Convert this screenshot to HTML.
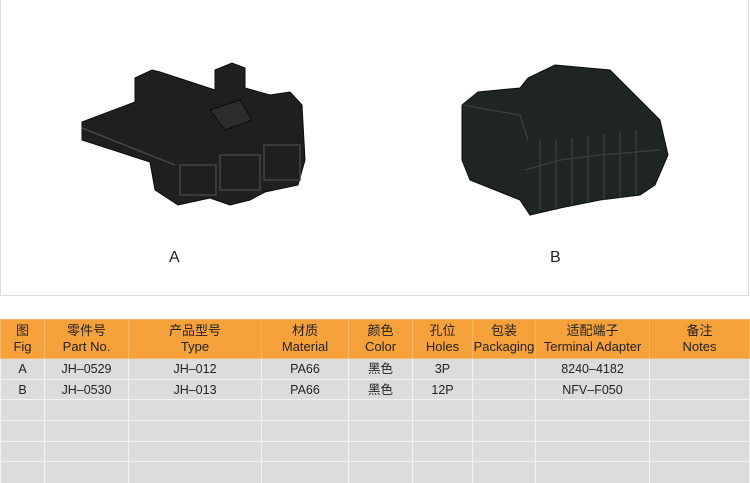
<!DOCTYPE html>
<html><head><meta charset="utf-8"><style>
body{margin:0;width:750px;height:482px;background:#fff;position:relative;overflow:hidden;font-family:"Liberation Sans","Noto Sans CJK SC",sans-serif}
.box{position:absolute;left:0;top:0;width:747px;height:295px;border:1px solid #ddd;border-top:none;box-sizing:content-box}
.lbl{position:absolute;font-size:16px;color:#222}
table{position:absolute;left:0;top:319px;width:749px;border-collapse:collapse;font-size:12.5px;color:#222;table-layout:fixed}
td,th{border:1px solid #f2f2f2;text-align:center;padding:0;overflow:hidden}
th{background:#f5a23b;font-weight:normal;height:38px;line-height:16px;border-color:#f7b766;font-size:13px}
tr.r{height:20.7px}
td{background:#dcdcdc;line-height:14px;white-space:nowrap}
td span{display:inline-block;line-height:14px;vertical-align:middle}
tr.last td{border-bottom:none}
</style></head><body>
<div class="box"></div>
<svg style="position:absolute;left:0;top:0" width="750" height="295">
<g fill="#1d1f21" stroke="#0c0c0c" stroke-width="1">
<polygon points="82,122 135,102 135,78 152,70 160,72 215,90 215,70 232,63 245,68 245,88 270,95 290,92 302,105 305,160 298,185 265,192 250,200 230,205 210,198 178,205 155,190 150,162 82,140"/>
<polygon points="210,110 240,100 252,120 225,130" fill="#2a2c2e"/>
</g>
<g fill="none" stroke="#444" stroke-width="1.5">
<rect x="180" y="165" width="36" height="30"/><rect x="220" y="155" width="40" height="35"/><rect x="264" y="145" width="36" height="35"/>
<line x1="82" y1="128" x2="175" y2="165"/>
</g>
<g fill="#1f2524" stroke="#0c0c0c">
<polygon points="462,105 478,92 520,88 528,78 555,65 610,70 635,95 660,120 668,155 655,185 640,195 600,200 560,208 530,215 520,200 470,180 462,160"/>
</g>
<g fill="none" stroke="#3a4040" stroke-width="1.3">
<polyline points="525,170 560,160 600,155 660,150"/>
<line x1="540" y1="140" x2="540" y2="210"/><line x1="556" y1="140" x2="556" y2="210"/><line x1="572" y1="138" x2="572" y2="205"/>
<line x1="588" y1="136" x2="588" y2="202"/><line x1="604" y1="134" x2="604" y2="200"/><line x1="620" y1="132" x2="620" y2="198"/><line x1="636" y1="130" x2="636" y2="195"/>
<polyline points="462,105 520,115 528,140"/>
</g>
</svg>
<div class="lbl" style="left:169px;top:249px">A</div>
<div class="lbl" style="left:550px;top:249px">B</div>
<table>
<colgroup><col style="width:44px"><col style="width:84px"><col style="width:133px"><col style="width:87px"><col style="width:64px"><col style="width:60px"><col style="width:63px"><col style="width:114px"><col style="width:100px"></colgroup>
<tr><th>图<br>Fig</th><th>零件号<br>Part No.</th><th>产品型号<br>Type</th><th>材质<br>Material</th><th>颜色<br>Color</th><th>孔位<br>Holes</th><th>包装<br>Packaging</th><th>适配端子<br>Terminal Adapter</th><th>备注<br>Notes</th></tr>
<tr class="r"><td>A</td><td>JH–0529</td><td>JH–012</td><td>PA66</td><td><span>黑色</span></td><td>3P</td><td></td><td>8240–4182</td><td></td></tr>
<tr class="r"><td>B</td><td>JH–0530</td><td>JH–013</td><td>PA66</td><td><span>黑色</span></td><td>12P</td><td></td><td>NFV–F050</td><td></td></tr>
<tr class="r"><td></td><td></td><td></td><td></td><td></td><td></td><td></td><td></td><td></td></tr>
<tr class="r"><td></td><td></td><td></td><td></td><td></td><td></td><td></td><td></td><td></td></tr>
<tr class="r"><td></td><td></td><td></td><td></td><td></td><td></td><td></td><td></td><td></td></tr>
<tr class="r last"><td></td><td></td><td></td><td></td><td></td><td></td><td></td><td></td><td></td></tr>
</table>
</body></html>
